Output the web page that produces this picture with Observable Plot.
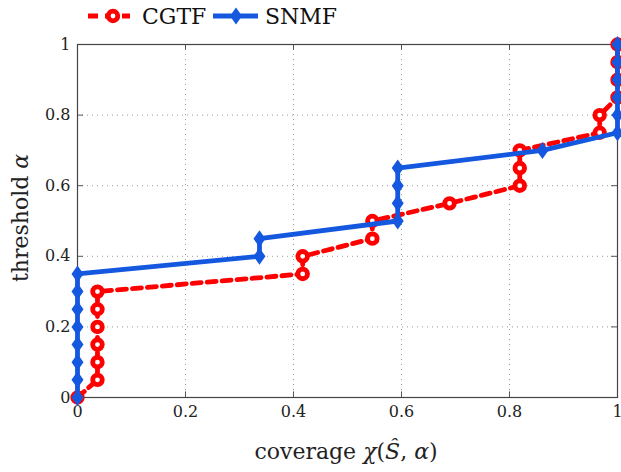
<!DOCTYPE html>
<html><head><meta charset="utf-8">
<script src="https://cdn.jsdelivr.net/npm/d3@7"></script>
<script src="https://cdn.jsdelivr.net/npm/@observablehq/plot@0.6"></script>
<style>
body{margin:0;background:#fff;font-family:"DejaVu Serif",serif;}
#legend{height:30px;width:621px;}
#legend svg{display:block;}
#chart svg{display:block;}
#chart svg text{font-family:"DejaVu Serif",serif !important;}
</style></head><body>
<div id="legend"></div><div id="chart"></div>
<script>
const seriesNames = ["CGTF", "SNMF"];
const seriesColors = ["#ff0000", "#1558e0"];
const cgtfX = [0, 0.037, 0.037, 0.037, 0.037, 0.037, 0.037, 0.417, 0.417, 0.546, 0.546, 0.689, 0.819, 0.819, 0.819, 0.967, 0.967, 1, 1, 1, 1];
const cgtfY = [0, 0.05, 0.1, 0.15, 0.2, 0.25, 0.3, 0.35, 0.4, 0.45, 0.5, 0.55, 0.6, 0.65, 0.7, 0.75, 0.8, 0.85, 0.9, 0.95, 1];
const snmfX = [0, 0, 0, 0, 0, 0, 0, 0, 0.337, 0.337, 0.593, 0.593, 0.593, 0.593, 0.861, 1, 1, 1, 1, 1, 1];
const snmfY = [0, 0.05, 0.1, 0.15, 0.2, 0.25, 0.3, 0.35, 0.4, 0.45, 0.5, 0.55, 0.6, 0.65, 0.7, 0.75, 0.8, 0.85, 0.9, 0.95, 1];
const xTicks = [0, 0.2, 0.4, 0.6, 0.8, 1];
const yTicks = [0, 0.2, 0.4, 0.6, 0.8, 1];

const cgtf = cgtfX.map((x, i) => ({x, y: cgtfY[i]}));
const snmf = snmfX.map((x, i) => ({x, y: snmfY[i]}));
const fmt = d3.format("~g");

// wide diamond marker (half-width 6, half-height 8.5)
const diamond = {draw(ctx) { ctx.moveTo(0, -8.5); ctx.lineTo(6, 0); ctx.lineTo(0, 8.5); ctx.lineTo(-6, 0); ctx.closePath(); }};

const plot = Plot.plot({
  width: 621, height: 442,
  marginLeft: 77, marginRight: 4, marginTop: 14, marginBottom: 75,
  style: {fontFamily: "DejaVu Serif, serif", fontSize: "16px", color: "#222", background: "#fff"},
  x: {domain: [0, 1], ticks: xTicks, tickFormat: fmt, tickSize: 0, tickPadding: 6, label: null},
  y: {domain: [0, 1], ticks: yTicks, tickFormat: fmt, tickSize: 0, tickPadding: 7, label: null},
  marks: [
    Plot.gridX(xTicks.slice(1, -1), {stroke: "#999", strokeOpacity: 1, strokeDasharray: "1,4"}),
    Plot.gridY(yTicks.slice(1, -1), {stroke: "#999", strokeOpacity: 1, strokeDasharray: "1,4"}),
    Plot.ruleX(xTicks, {y1: 0, y2: 0.016, stroke: "#555"}),
    Plot.ruleX(xTicks, {y1: 1, y2: 0.984, stroke: "#555"}),
    Plot.ruleY(yTicks, {x1: 0, x2: 0.011, stroke: "#555"}),
    Plot.ruleY(yTicks, {x1: 1, x2: 0.989, stroke: "#555"}),
    Plot.frame({stroke: "#444", strokeWidth: 1.2}),
    Plot.axisX({tickSize: 0, tickPadding: 8, tickFormat: fmt, ticks: xTicks, fontSize: 16}),
    Plot.axisY({tickSize: 0, tickPadding: 7, tickFormat: fmt, ticks: yTicks, fontSize: 16}),
    Plot.line(cgtf, {x: "x", y: "y", stroke: seriesColors[0], strokeWidth: 4.8, strokeDasharray: "9,6"}),
    Plot.dot(cgtf, {x: "x", y: "y", r: 4.8, stroke: seriesColors[0], strokeWidth: 4.8, fill: "white"}),
    Plot.line(snmf, {x: "x", y: "y", stroke: seriesColors[1], strokeWidth: 4.8}),
    Plot.dot(snmf, {x: "x", y: "y", symbol: diamond, fill: seriesColors[1], stroke: "none"})
  ]
});
document.getElementById("chart").appendChild(plot);

const svg = d3.select(plot);
const xl = svg.append("text").attr("x", 346).attr("y", 429).attr("text-anchor", "middle")
  .style("font-size", "22px").attr("fill", "#222");
xl.append("tspan").text("coverage ");
xl.append("tspan").attr("font-style", "italic").text("χ");
xl.append("tspan").text("(");
xl.append("tspan").attr("font-style", "italic").text("Ŝ");
xl.append("tspan").text(", ");
xl.append("tspan").attr("font-style", "italic").text("α");
xl.append("tspan").text(")");

const yl = svg.append("text").attr("transform", "translate(28,188) rotate(-90)").attr("text-anchor", "middle")
  .style("font-size", "22px").attr("fill", "#222");
yl.append("tspan").text("threshold ");
yl.append("tspan").attr("font-style", "italic").text("α");

// legend
const lg = d3.select("#legend").append("svg").attr("width", 621).attr("height", 30);
lg.append("line").attr("x1", 88).attr("x2", 130).attr("y1", 16).attr("y2", 16)
  .attr("stroke", seriesColors[0]).attr("stroke-width", 4.8).attr("stroke-dasharray", "10,7");
lg.append("circle").attr("cx", 113).attr("cy", 16).attr("r", 4.8).attr("fill", "white")
  .attr("stroke", seriesColors[0]).attr("stroke-width", 4.8);
lg.append("text").attr("x", 142).attr("y", 24).text(seriesNames[0])
  .style("font-family", "DejaVu Serif, serif").style("font-size", "22px").attr("fill", "#111");
lg.append("line").attr("x1", 213).attr("x2", 258).attr("y1", 16).attr("y2", 16)
  .attr("stroke", seriesColors[1]).attr("stroke-width", 4.8);
lg.append("path").attr("d", "M0,-8.5L6,0L0,8.5L-6,0Z").attr("transform", "translate(236,16)")
  .attr("fill", seriesColors[1]);
lg.append("text").attr("x", 265).attr("y", 24).text(seriesNames[1])
  .style("font-family", "DejaVu Serif, serif").style("font-size", "22px").attr("fill", "#111");
</script>
</body></html>
